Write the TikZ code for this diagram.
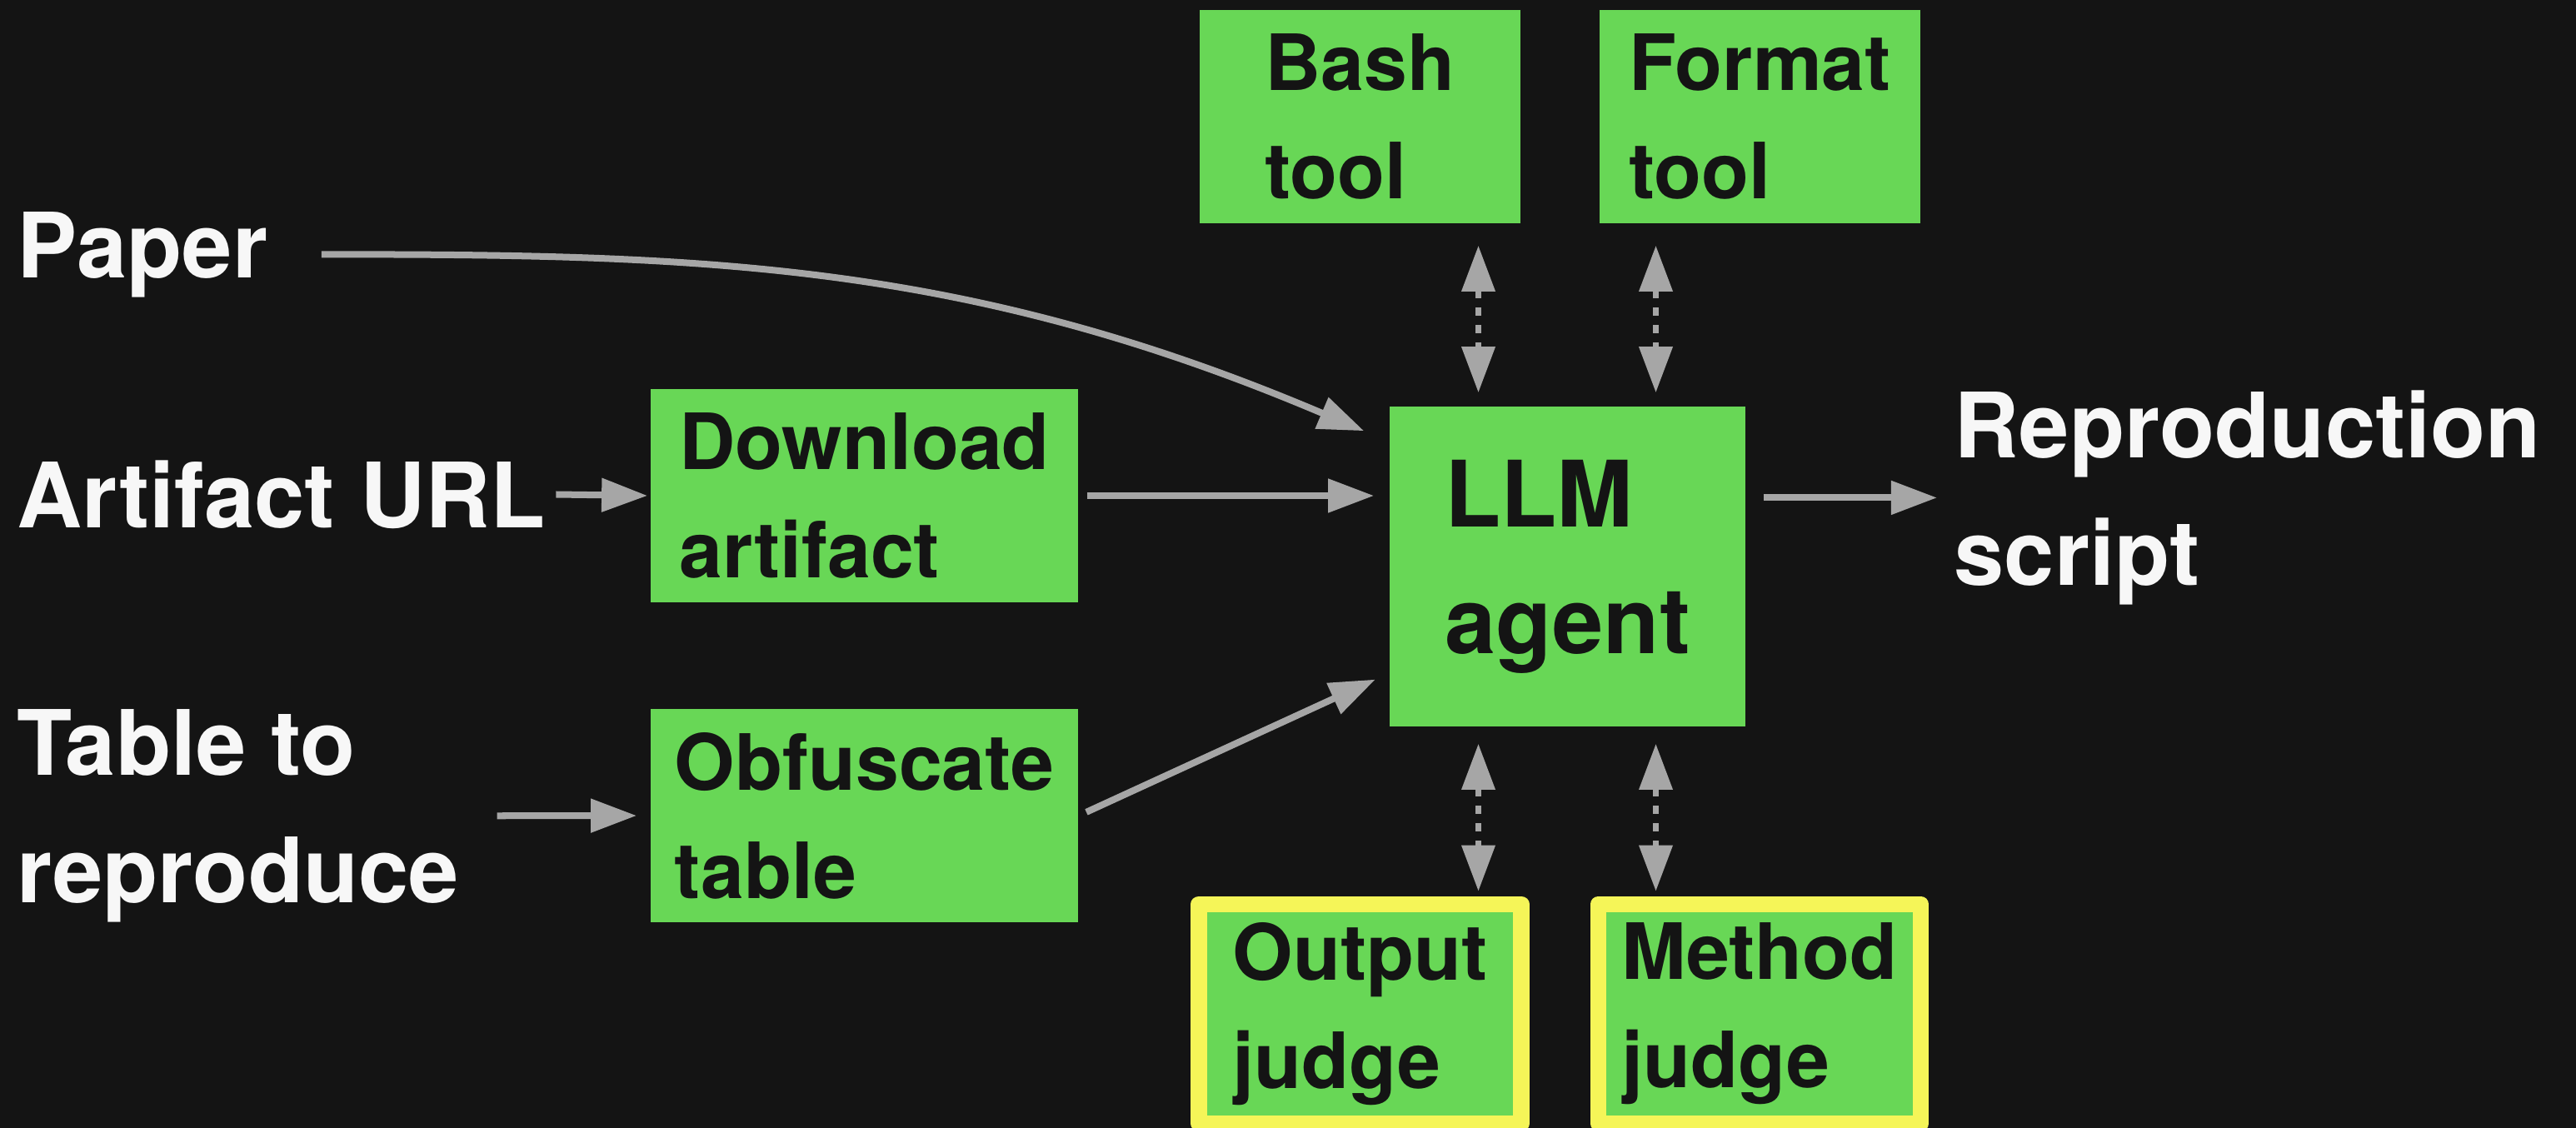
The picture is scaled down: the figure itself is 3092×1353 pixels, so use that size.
\documentclass[tikz,border=0pt]{standalone}
\usepackage{fontspec}
\setmainfont{TeX Gyre Heros}
\usetikzlibrary{arrows.meta,calc}

\definecolor{bgdark}{RGB}{20,20,20}
\definecolor{boxgreen}{RGB}{104,215,86}
\definecolor{judgeyellow}{RGB}{245,245,88}
\definecolor{arrowgrey}{RGB}{166,166,166}
\definecolor{labelwhite}{RGB}{247,247,247}
\definecolor{inkdark}{RGB}{20,20,20}

\begin{document}
\begin{tikzpicture}[x=0.01cm,y=-0.01cm,
  lbl/.style={text=labelwhite, inner sep=0pt, align=left, anchor=base west,
    font=\bfseries\fontsize{30.8pt}{43.25pt}\selectfont},
  stepbox/.style={fill=boxgreen, draw=none, text=inkdark, align=left, inner sep=0pt,
    font=\bfseries\fontsize{26.5pt}{37pt}\selectfont},
  agentbox/.style={stepbox, font=\bfseries\fontsize{31.3pt}{43.25pt}\selectfont},
  judgebox/.style={stepbox, draw=judgeyellow, line width=0.195cm, line join=round},
  flow/.style={draw=arrowgrey, line width=0.08cm, -{Triangle[length=0.55cm,width=0.39cm]}},
  toolflow/.style={draw=arrowgrey, line width=0.07cm, dash pattern=on 0.1cm off 0.11cm,
    {Triangle[length=0.55cm,width=0.39cm]}-{Triangle[length=0.55cm,width=0.39cm]}},
]
\useasboundingbox (0,0) rectangle (3092,1353);
\fill[bgdark] (-10,-10) rectangle (3102,1363);

% inputs and output (multi-line labels are placed by their last baseline)
\node[lbl] (paper) at (20,333) {Paper};
\node[lbl] (url) at (20,633) {Artifact URL};
\node[lbl] (table) at (20,1083) {Table to\\reproduce};
\node[lbl] (repro) at (2345,702) {Reproduction\\script};

% processing boxes
\node[stepbox, minimum width=5.13cm, minimum height=2.56cm] (download) at (1037.5,595) {Download\\artifact};
\node[stepbox, minimum width=5.13cm, minimum height=2.56cm] (obf) at (1037.5,979) {Obfuscate\\table};
\node[agentbox, minimum width=4.27cm, minimum height=3.84cm] (llm) at (1881.5,680) {LLM\\agent};

% tools
\node[stepbox, minimum width=3.85cm, minimum height=2.56cm] (bash) at (1632.5,140) {Bash\\tool};
\node[stepbox, minimum width=3.85cm, minimum height=2.56cm] (fmt) at (2112.5,140) {Format\\tool};

% judges
\node[judgebox, minimum width=3.87cm, minimum height=2.63cm] (outj) at (1632.5,1217) {Output\\judge};
\node[judgebox, minimum width=3.87cm, minimum height=2.63cm] (methj) at (2112,1217) {Method\\judge};

% columns of the tool and judge links
\coordinate (colA) at (1774.5,0);
\coordinate (colB) at (1987.5,0);

% data flow
\draw[flow, shorten <=0.64cm] (paper.east) to[out=0,in=157] ([xshift=-0.3cm,yshift=-0.3cm]llm.north west);
\draw[flow, shorten <=0.12cm, shorten >=0.03cm] (url.east) -- (download.west);
\draw[flow, shorten <=0.45cm, shorten >=0.16cm] (table.east) -- (obf.west);
\draw[flow, shorten <=0.1cm, shorten >=0.18cm] (download.east) -- (llm.west |- download.east);
\draw[flow, shorten <=0.1cm, shorten >=0.18cm] (obf.east) -- ([yshift=-1.28cm]llm.west);
\draw[flow, shorten <=0.21cm, shorten >=0.2cm] (llm.east |- repro.west) -- (repro.west);

% tool calls
\draw[toolflow, shorten <=0.26cm, shorten >=0.16cm] (bash.south -| colA) -- (llm.north -| colA);
\draw[toolflow, shorten <=0.26cm, shorten >=0.16cm] (fmt.south -| colB) -- (llm.north -| colB);
\draw[toolflow, shorten <=0.2cm, shorten >=0.06cm] (llm.south -| colA) -- (outj.north -| colA);
\draw[toolflow, shorten <=0.2cm, shorten >=0.06cm] (llm.south -| colB) -- (methj.north -| colB);
\end{tikzpicture}
\end{document}
